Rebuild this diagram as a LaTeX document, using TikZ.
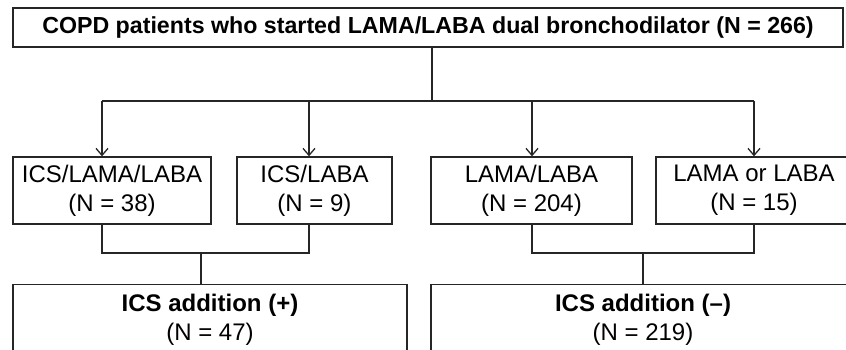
\documentclass[tikz,border=0pt]{standalone}
\usepackage{fontspec}
\setmainfont{Liberation Sans}
\usetikzlibrary{arrows.meta}
\begin{document}
\begin{tikzpicture}[x=1pt,y=-1pt,
  ln/.style={line width=1.3pt, draw=black!85},
  box/.style={ln, rectangle, inner sep=0pt, align=center, font=\fontsize{24}{29}\selectfont},
  arr/.style={ln, -{Straight Barb[length=7pt,width=12pt,line width=1.3pt]}}]
\useasboundingbox (0,0) rectangle (846,350);
\clip (0,0) rectangle (846,350);
\node[box, minimum width=830pt, minimum height=39pt, font=\fontsize{23.2}{28}\selectfont] (top) at (428,27.5) {\bfseries COPD patients who started LAMA/LABA dual bronchodilator (N = 266)};
\node[box, minimum width=198pt, minimum height=67pt] (b1) at (112,190.5) {ICS/LAMA/LABA\\(N = 38)};
\node[box, minimum width=155pt, minimum height=67pt] (b2) at (314.5,190.5) {ICS/LABA\\(N = 9)};
\node[box, minimum width=201pt, minimum height=67pt] (b3) at (531.5,190.5) {LAMA/LABA\\(N = 204)};
\node[box, minimum width=196pt, minimum height=67pt] (b4) at (754,190.5) {LAMA or LABA\\(N = 15)};
\node[box, minimum width=394pt, minimum height=110pt, anchor=north] (p) at (210,284) {};
\node[box, minimum width=424pt, minimum height=110pt, anchor=north] (m) at (643,284) {};
\node[font=\fontsize{24}{29}\selectfont, align=center, anchor=north] (pt) at (210,291) {\bfseries ICS addition (+)\\(N = 47)};
\node[font=\fontsize{24}{29}\selectfont, align=center, anchor=north] (mt) at (643,291) {\bfseries ICS addition (–)\\(N = 219)};
\coordinate (hub) at (432,101);
\coordinate (a1) at (102,101);
\coordinate (a2) at (309,101);
\coordinate (a3) at (532,101);
\coordinate (a4) at (754,101);
\draw[ln] (top.south -| hub) -- (hub);
\draw[ln] (a1) -- (a4);
\draw[arr] (a1) -- (a1 |- b1.north);
\draw[arr] (a2) -- (a2 |- b2.north);
\draw[arr] (a3) -- (a3 |- b3.north);
\draw[arr] (a4) -- (a4 |- b4.north);
\coordinate (l1) at (102,253);
\coordinate (l2) at (309,253);
\coordinate (lm) at (201,253);
\coordinate (r1) at (532,253);
\coordinate (r2) at (754,253);
\coordinate (rm) at (643,253);
\draw[ln] (l1 |- b1.south) -- (l1) -- (l2) -- (l2 |- b2.south);
\draw[ln] (lm) -- (lm |- p.north);
\draw[ln] (r1 |- b3.south) -- (r1) -- (r2) -- (r2 |- b4.south);
\draw[ln] (rm) -- (rm |- m.north);
\end{tikzpicture}
\end{document}
